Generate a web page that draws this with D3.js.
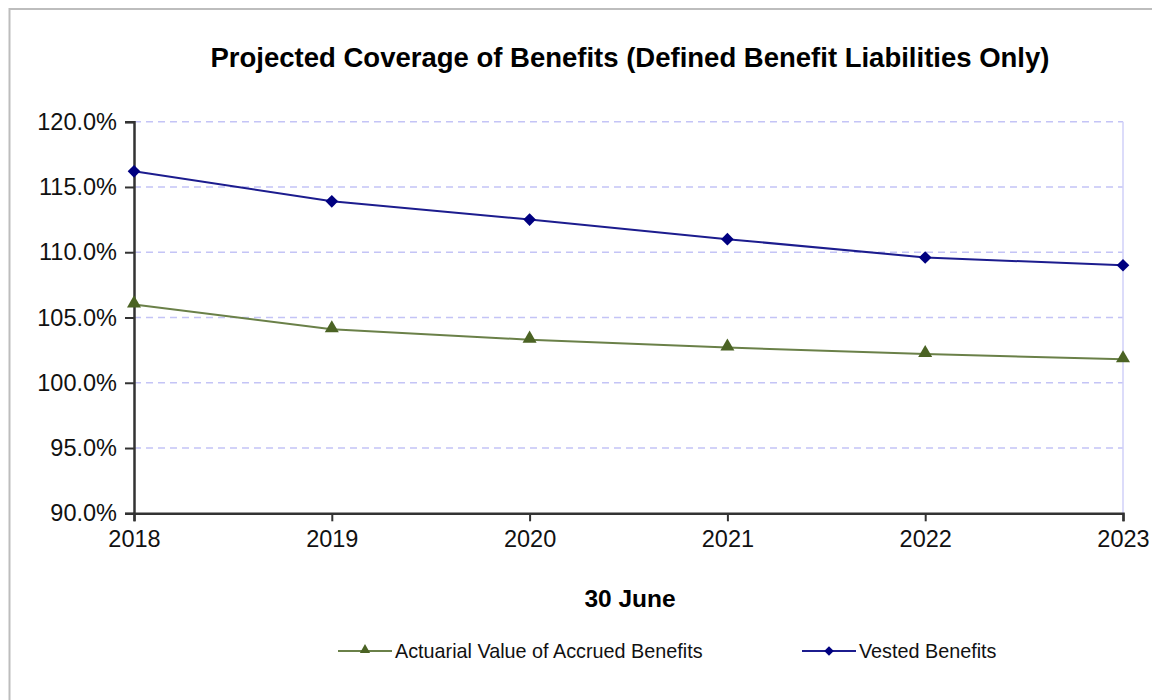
<!DOCTYPE html>
<html>
<head>
<meta charset="utf-8">
<script src="https://cdn.jsdelivr.net/npm/d3@7"></script>
<style>
  body { margin: 0; background: #fff; }
  svg { font-family: "Liberation Sans", Arial, sans-serif; }
</style>
</head>
<body>
<div id="chart"></div>
<script>
// data
var years = [2018, 2019, 2020, 2021, 2022, 2023];
var accrued = [106.0, 104.1, 103.3, 102.7, 102.2, 101.8];
var vested = [116.2, 113.9, 112.5, 111.0, 109.6, 109.0];
var yTicks = [90, 95, 100, 105, 110, 115, 120];
var seriesNames = ["Actuarial Value of Accrued Benefits", "Vested Benefits"];

var svgWidth = 1152;
var svgHeight = 700;
var margin = { top: 121.7, right: 29, bottom: 186.7, left: 134 };
var width = svgWidth - margin.left - margin.right;
var height = svgHeight - margin.top - margin.bottom;

var svg = d3.select('#chart')
    .append('svg')
    .attr('width', svgWidth)
    .attr('height', svgHeight);

// outer chart border
svg.append('rect')
    .attr('x', 9.5).attr('y', 9)
    .attr('width', 1200).attr('height', 760)
    .attr('fill', 'none')
    .attr('stroke', '#bdbdbd')
    .attr('stroke-width', 2);

var chartGroup = svg.append('g')
    .attr('transform', `translate(${margin.left}, ${margin.top})`);

var xScale = d3.scalePoint()
    .domain(years)
    .range([0, width]);

var yScale = d3.scaleLinear()
    .domain([90, 120])
    .range([height, 0]);

// gridlines
chartGroup.append('g')
    .selectAll('line')
    .data(yTicks.filter(d => d > 90))
    .enter()
    .append('line')
    .attr('x1', 0).attr('x2', width)
    .attr('y1', d => yScale(d)).attr('y2', d => yScale(d))
    .attr('stroke', '#c4c4f6')
    .attr('stroke-width', 1.5)
    .attr('stroke-dasharray', '7,5');

// right border of plot area
chartGroup.append('line')
    .attr('x1', width).attr('x2', width)
    .attr('y1', 0).attr('y2', height)
    .attr('stroke', '#d0d0f8')
    .attr('stroke-width', 1.5);

// axes
var xAxis = d3.axisBottom(xScale).tickSize(8).tickPadding(9);
var yAxis = d3.axisLeft(yScale).tickValues(yTicks).tickSize(9).tickPadding(8)
    .tickFormat(d => d3.format('.1f')(d) + '%');

var gx = chartGroup.append('g')
    .attr('transform', `translate(0, ${height})`)
    .call(xAxis);
var gy = chartGroup.append('g')
    .call(yAxis);

[gx, gy].forEach(function(g) {
    g.select('.domain').attr('stroke', '#333').attr('stroke-width', 2.5);
    g.selectAll('.tick line').attr('stroke', '#333').attr('stroke-width', 2);
    g.selectAll('.tick text')
        .style('font-size', '23.5px')
        .style('font-family', '"Liberation Sans", Arial, sans-serif')
        .attr('fill', '#111');
});

// lines
var line = d3.line()
    .x((d, i) => xScale(years[i]))
    .y(d => yScale(d));

chartGroup.append('path')
    .datum(accrued)
    .attr('d', line)
    .attr('fill', 'none')
    .attr('stroke', '#6a8048')
    .attr('stroke-width', 2);

chartGroup.append('path')
    .datum(vested)
    .attr('d', line)
    .attr('fill', 'none')
    .attr('stroke', '#1c1c8e')
    .attr('stroke-width', 2);

var triangle = d3.symbol().type(d3.symbolTriangle).size(85);
var diamond = d3.symbol().type(d3.symbolSquare).size(80);

chartGroup.selectAll('.acc')
    .data(accrued)
    .enter()
    .append('path')
    .attr('class', 'acc')
    .attr('d', triangle)
    .attr('transform', (d, i) => `translate(${xScale(years[i])}, ${yScale(d) - 1})`)
    .attr('fill', '#4b6324');

chartGroup.selectAll('.ves')
    .data(vested)
    .enter()
    .append('path')
    .attr('class', 'ves')
    .attr('d', diamond)
    .attr('transform', (d, i) => `translate(${xScale(years[i])}, ${yScale(d)}) rotate(45)`)
    .attr('fill', '#000080');

// title
svg.append('text')
    .attr('x', 630).attr('y', 67)
    .attr('text-anchor', 'middle')
    .style('font-size', '27.5px')
    .style('font-weight', 'bold')
    .attr('fill', '#000')
    .text('Projected Coverage of Benefits (Defined Benefit Liabilities Only)');

// x axis label
svg.append('text')
    .attr('x', 630).attr('y', 607)
    .attr('text-anchor', 'middle')
    .style('font-size', '24.5px')
    .style('font-weight', 'bold')
    .attr('fill', '#000')
    .text('30 June');

// legend
var legend = svg.append('g').attr('transform', 'translate(0, 651)');
var legendItems = [
    { x: 338, name: seriesNames[0], color: '#6a8048', mark: '#4b6324', sym: triangle, rot: 0 },
    { x: 802, name: seriesNames[1], color: '#1c1c8e', mark: '#000080', sym: diamond, rot: 45 }
];
legendItems.forEach(function(it) {
    legend.append('line')
        .attr('x1', it.x).attr('x2', it.x + 54)
        .attr('y1', 0).attr('y2', 0)
        .attr('stroke', it.color).attr('stroke-width', 2);
    legend.append('path')
        .attr('d', it.sym.size(45))
        .attr('transform', `translate(${it.x + 27}, ${it.rot ? 0 : -1}) rotate(${it.rot})`)
        .attr('fill', it.mark);
    legend.append('text')
        .attr('x', it.x + 57).attr('y', 7)
        .style('font-size', '19.8px')
        .attr('fill', '#111')
        .text(it.name);
});
</script>
</body>
</html>
